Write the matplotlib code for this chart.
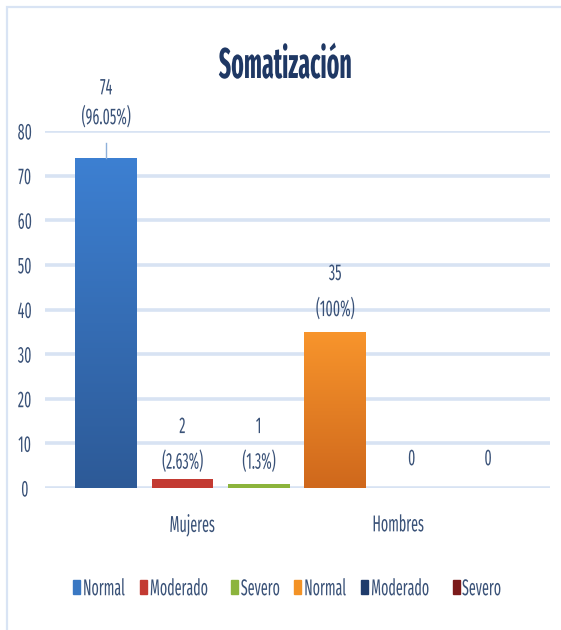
import matplotlib
matplotlib.use("Agg")
import matplotlib.pyplot as plt
import numpy as np
from matplotlib.colors import LinearSegmentedColormap
from matplotlib.patches import Rectangle
from matplotlib.patheffects import AbstractPathEffect
from matplotlib.transforms import Affine2D

FAM = ['Fira Sans Extra Condensed', 'DejaVu Sans']
plt.rcParams['font.family'] = FAM

title = "Somatización"
categories = ["Mujeres", "Hombres"]
series = ["Normal", "Moderado", "Severo", "Normal", "Moderado", "Severo"]
values = [74, 2, 1, 35, 0, 0]
pct_labels = ["(96.05%)", "(2.63%)", "(1.3%)", "(100%)", "", ""]
yticks = [0, 10, 20, 30, 40, 50, 60, 70, 80]

colors = ["#3A78C3", "#C33A32", "#8CB43C", "#F39225", "#1F3B6B", "#7B1A1A"]
grad_top = {0: "#3D80D2", 3: "#F8952C"}
grad_bot = {0: "#2D5A97", 3: "#CF681C"}

TXT = "#3A5278"
GRID = "#D8E3F3"
FS = 16.5
SX = 0.66


class HScale(AbstractPathEffect):
    """Horizontally condense glyphs of a text (keeps it a real text)."""
    def __init__(self, sx, anchor="center"):
        super().__init__()
        self.sx = sx
        self.anchor = anchor

    def draw_path(self, renderer, gc, tpath, affine, rgbFace=None):
        ext = tpath.get_extents(affine)
        if self.anchor == "left":
            cx = ext.x0
        elif self.anchor == "right":
            cx = ext.x1
        else:
            cx = 0.5 * (ext.x0 + ext.x1)
        t = affine + Affine2D().translate(-cx, 0).scale(self.sx, 1).translate(cx, 0)
        renderer.draw_path(gc, tpath, t, rgbFace)


fig = plt.figure(figsize=(5.61, 6.3), dpi=100)
fig.patch.set_facecolor("white")
fig.patches.append(Rectangle((7/561, -0.1), 1.2, 1 - 7/630 + 0.1, transform=fig.transFigure,
                             fill=False, edgecolor="#D9E4F4", linewidth=1.6))

ax = fig.add_axes([45/561, 1 - 488/630, (550-45)/561, (488-131)/630])
x = np.arange(len(values))
bars = ax.bar(x, values, width=0.81, color=colors, zorder=3)

for i, b in enumerate(bars):
    if i in grad_top and values[i] > 0:
        cmap = LinearSegmentedColormap.from_list("g", [grad_bot[i], grad_top[i]])
        grad = np.linspace(0, 1, 256).reshape(-1, 1)
        x0, y0 = b.get_x(), b.get_y()
        im = ax.imshow(grad, cmap=cmap, origin="lower", aspect="auto",
                       extent=[x0, x0 + b.get_width(), y0, y0 + b.get_height()], zorder=4)
        im.set_clip_path(b)
ax.set_xlim(-0.8, 5.81)
ax.set_ylim(0, 80)

for s in ax.spines.values():
    s.set_visible(False)
ax.set_yticks(yticks)
ax.yaxis.grid(True, color=GRID, linewidth=2.6, zorder=0)
ax.tick_params(axis='y', length=0, pad=14.5, labelsize=FS, labelcolor=TXT)
ax.set_yticklabels([str(v) for v in yticks], ha="center")
ax.set_xticks([1.125, 3.82])
ax.set_xticklabels(categories)
ax.tick_params(axis='x', length=0, pad=19, labelsize=FS, labelcolor=TXT)

# data labels (layout offsets)
label_texts = []
for i, v in enumerate(values):
    if pct_labels[i]:
        if i == 0:
            ytop, ybot = v + 15.6, v + 9.0
        elif v > 20:
            ytop, ybot = v + 13.0, v + 5.0
        else:
            ytop, ybot = 13.7, 5.8
        label_texts.append(ax.text(x[i], ytop, str(v), ha="center", va="center", fontsize=FS, color=TXT, zorder=5))
        label_texts.append(ax.text(x[i], ybot, pct_labels[i], ha="center", va="center", fontsize=FS, color=TXT, zorder=5))
    else:
        label_texts.append(ax.text(x[i], 6.5, str(v), ha="center", va="center", fontsize=FS, color=TXT, zorder=5))

# leader line for first bar
ax.plot([x[0], x[0]], [values[0], values[0] + 3.3], color="#8EB0DA", linewidth=1, zorder=5)

ttl = fig.text(285.5/561, 1 - 78/630, title, ha="center", va="baseline", fontsize=31,
               fontweight="bold", color="#1F3864")
ttl.set_path_effects([HScale(0.60)])

handles = [Rectangle((0, 0), 1, 1, color=c) for c in colors]
leg = fig.legend(handles, series, loc="center", bbox_to_anchor=(297/561, 1 - 589/630), ncol=6,
                 frameon=False, fontsize=FS, handlelength=0.31, handleheight=0.57,
                 handletextpad=0.1, columnspacing=-0.24, labelcolor=TXT)

fig.canvas.draw()
for t in label_texts + ax.get_yticklabels() + ax.get_xticklabels():
    t.set_path_effects([HScale(SX)])
for t in leg.get_texts():
    t.set_path_effects([HScale(SX, "left")])

fig.savefig("out.png", dpi=100, facecolor="white")
